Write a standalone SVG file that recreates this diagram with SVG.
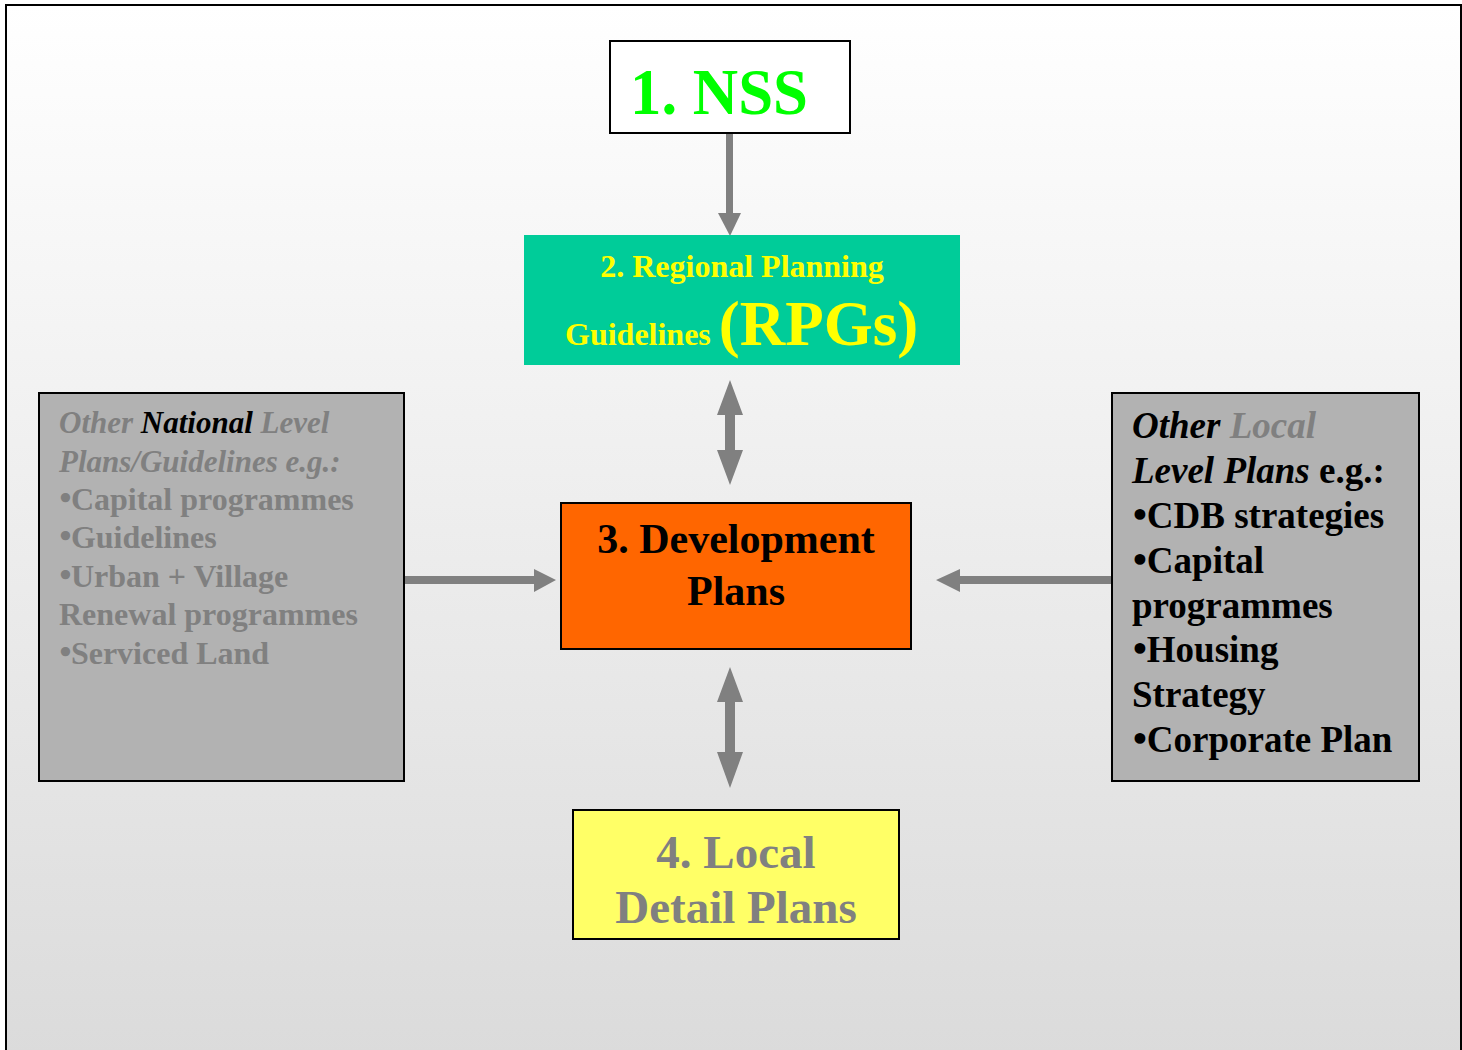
<svg xmlns="http://www.w3.org/2000/svg" width="1462" height="1050" viewBox="0 0 1462 1050">
<defs>
<linearGradient id="bg" x1="0" y1="0" x2="0" y2="1">
<stop offset="0" stop-color="#ffffff"/>
<stop offset="1" stop-color="#dbdbdb"/>
</linearGradient>
</defs>
<style>
text{font-family:"Liberation Serif","Times New Roman",serif;font-weight:bold}
.box{stroke:#000;stroke-width:2}
.arr{fill:#808080}
.g{fill:#808080}
.k{fill:#000}
.it{font-style:italic}
.b{font-family:"DejaVu Serif","Liberation Serif",serif;font-weight:normal;letter-spacing:-4px}
</style>
<rect x="0" y="0" width="1462" height="1050" fill="#ffffff"/>
<rect x="6" y="5" width="1455" height="1050" fill="url(#bg)"/>
<path d="M6 1050 V5 H1461 V1050" fill="none" stroke="#000" stroke-width="2"/>

<g id="connectors">
<rect class="arr" x="726" y="133" width="7" height="84"/>
<polygon class="arr" points="718,213 741,213 730,236"/>
<polygon class="arr" points="730,380 743,415 735,415 735,450 743,450 730,485 717,450 725,450 725,415 717,415"/>
<polygon class="arr" points="730,667 743,702 735,702 735,752 743,752 730,788 717,752 725,752 725,702 717,702"/>
<polygon class="arr" points="405,576 534,576 534,569 556,580 534,592 534,584 405,584"/>
<polygon class="arr" points="1112,576 960,576 960,569 936,580 960,592 960,584 1112,584"/>
</g>

<g id="nss">
<rect class="box" x="610" y="41" width="240" height="92" fill="#ffffff" stroke-width="1.5"/>
<text x="630" y="114" font-size="66" fill="#00ff00" textLength="178" lengthAdjust="spacingAndGlyphs">1. NSS</text>
</g>

<g id="rpg">
<rect x="524" y="235" width="436" height="130" fill="#00cc99"/>
<text x="742" y="277" font-size="32" fill="#ffff00" text-anchor="middle">2. Regional Planning</text>
<text x="565" y="345" font-size="32" fill="#ffff00">Guidelines <tspan font-size="63">(RPGs)</tspan></text>
</g>

<g id="dev">
<rect class="box" x="561" y="503" width="350" height="146" fill="#ff6600"/>
<text x="736" y="553" font-size="42" class="k" text-anchor="middle">3. Development</text>
<text x="736" y="605" font-size="42" class="k" text-anchor="middle">Plans</text>
</g>

<g id="national">
<rect class="box" x="39" y="393" width="365" height="388" fill="#b2b2b2"/>
<text x="59" y="433" font-size="31" class="it g">Other <tspan class="k">National</tspan> Level</text>
<text x="59" y="472" font-size="31" class="it g">Plans/Guidelines e.g.:</text>
<text x="56" y="510" font-size="32" class="g"><tspan class="b">•</tspan>Capital programmes</text>
<text x="56" y="548" font-size="32" class="g"><tspan class="b">•</tspan>Guidelines</text>
<text x="56" y="587" font-size="32" class="g"><tspan class="b">•</tspan>Urban + Village</text>
<text x="59" y="625" font-size="32" class="g">Renewal programmes</text>
<text x="56" y="664" font-size="32" class="g"><tspan class="b">•</tspan>Serviced Land</text>
</g>

<g id="local">
<rect class="box" x="1112" y="393" width="307" height="388" fill="#b2b2b2"/>
<text x="1132" y="438" font-size="37" class="it k">Other <tspan class="g">Local</tspan></text>
<text x="1132" y="483" font-size="37" class="k"><tspan class="it">Level Plans</tspan> e.g.:</text>
<text x="1129" y="528" font-size="37" class="k"><tspan class="b">•</tspan>CDB strategies</text>
<text x="1129" y="573" font-size="37" class="k"><tspan class="b">•</tspan>Capital</text>
<text x="1132" y="618" font-size="37" class="k">programmes</text>
<text x="1129" y="662" font-size="37" class="k"><tspan class="b">•</tspan>Housing</text>
<text x="1132" y="707" font-size="37" class="k">Strategy</text>
<text x="1129" y="752" font-size="37" class="k"><tspan class="b">•</tspan>Corporate Plan</text>
</g>

<g id="ldp">
<rect class="box" x="573" y="810" width="326" height="129" fill="#ffff66"/>
<text x="736" y="868" font-size="47" class="g" text-anchor="middle">4. Local</text>
<text x="736" y="923" font-size="47" class="g" text-anchor="middle">Detail Plans</text>
</g>
</svg>
